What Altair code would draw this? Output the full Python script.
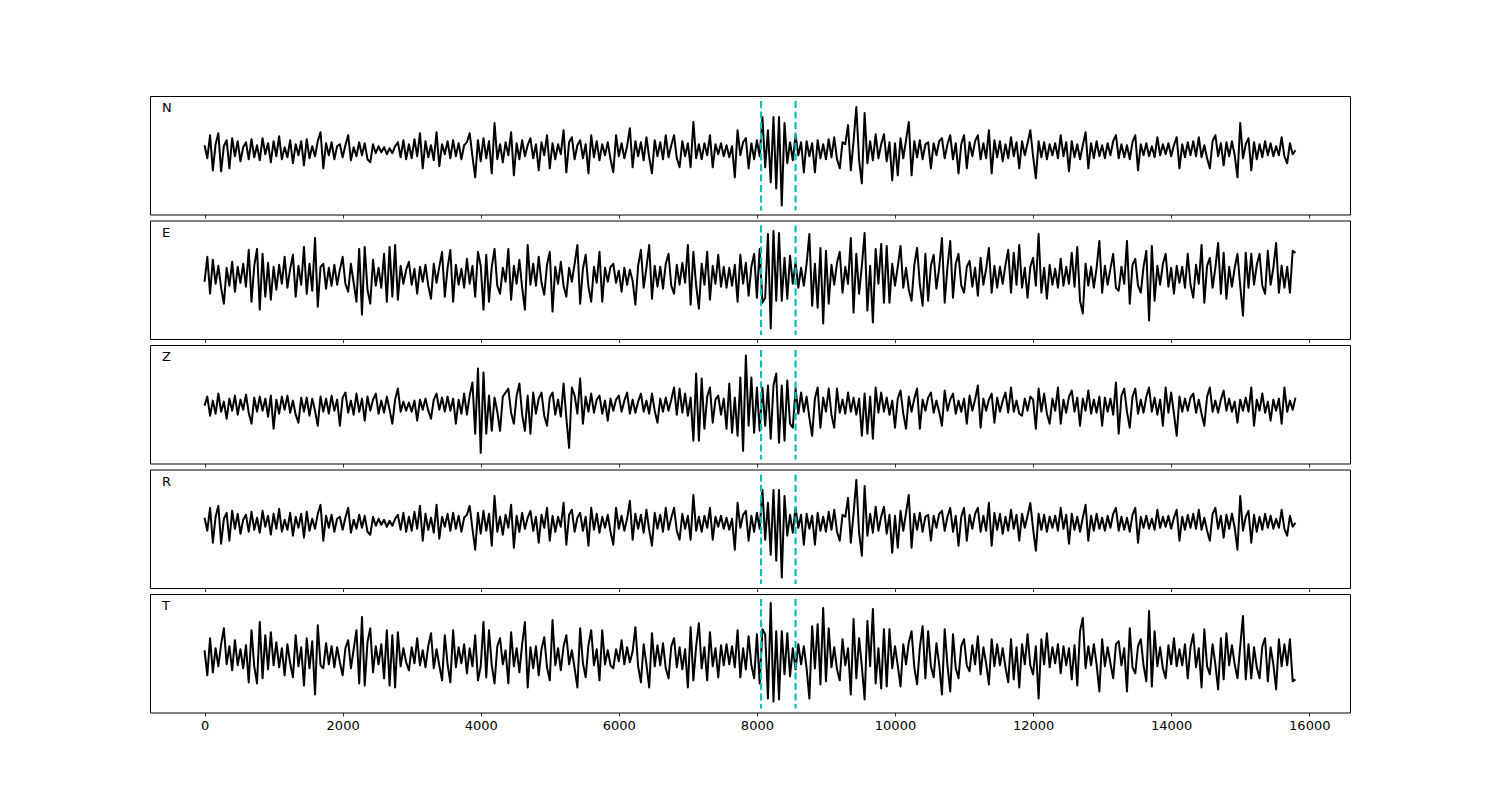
import altair as alt
import pandas as pd

# sample spacing of the traces (x units) and shared axis settings
DT = 40
X_DOMAIN = [-790, 16590]
X_TICKS = [0, 2000, 4000, 6000, 8000, 10000, 12000, 14000, 16000]
PICKS = [8060, 8560]

N_amp = [
    5, -8, 15, -20, 6, 17, -21, 4, 10, -18, 12, -6, 9, -11, 3, 8, -9, 11, -7, 5,
    -10, 12, -4, 7, -12, 9, -6, 14, -9, 3, -7, 10, -13, 6, -5, 9, -15, 11, -8, 4,
    -6, 9, 18, -18, 7, -5, 8, -9, 4, 6, -7, 5, 15, -10, 3, -6, 8, -5, 7, -9,
    -12, 6, -3, 4, -2, 3, -4, 2, -3, 4, 8, -7, 10, -9, 6, -8, 11, -6, 17, -18,
    9, -7, 5, -10, 18, -16, 6, -4, 9, -8, 10, -6, 7, -9, 5, 8, 17, -6, -27, 10,
    -11, 12, -8, 9, -23, 27, -9, 6, -12, 8, -5, 18, -25, 7, -9, 10, -6, 5, 12, -8,
    6, -20, 8, -5, 15, -18, 7, -9, 6, -4, 20, -22, 8, 13, -9, 5, 10, -8, 6, -23,
    15, -7, 9, -10, 6, -5, 8, -9, -22, 15, -6, 7, -8, 4, 22, -17, 9, -6, 8, -10,
    13, -7, -23, 10, -6, 8, -9, 15, -7, 5, 15, -8, -17, 9, -6, 7, -17, 28, -8, 6,
    -9, 7, -5, 15, -17, 6, -4, 7, -6, 5, -7, 4, -27, 20, -5, 8, 12, -18, 7, -9,
    10, -6, 33, -17, 20, -32, 33, -38, 33, -55, 27, -13, 8, -10, 15, -5, 8, -22, 9, -6,
    7, -22, 10, -8, 6, -9, 11, -7, 13, -9, -18, 8, 6, 25, -20, 9, 43, -10, -33, 37,
    -13, 9, -10, 16, -8, 6, 16, -11, 8, -30, 7, -25, 12, -8, 10, 28, -25, 9, -7, 10,
    -9, 6, 8, -18, 7, -5, 9, 12, -8, 6, 15, -9, 7, -23, 6, 15, -18, 8, -6, 9,
    15, -9, 7, -8, 20, -23, 10, -7, 9, -11, 6, -8, 13, -6, 8, -18, 9, -5, 7, 20,
    -6, -28, 9, -7, 8, -9, 6, -5, 7, -8, 15, -6, 8, -21, 9, -7, 6, -9, 5, 18,
    -18, 7, -8, 9, -6, 5, -8, 7, -5, 9, 15, -8, 6, -7, 5, -9, 8, 15, -20, 6,
    -5, 7, -6, 4, -7, 13, -5, 6, -4, 7, -6, 5, 13, -18, 6, -7, 8, -5, 9, -6,
    13, -7, 5, -8, -18, 9, 15, -6, 7, -15, 8, -6, 9, -5, -27, 27, -8, 6, 12, -20,
    8, -9, 6, -7, 9, -5, 7, -6, 4, -5, 13, -6, -13, 7, -4, 0,
]

E_amp = [
    -6, 19, -18, 16, -8, 10, -12, -28, 8, -10, 14, -16, 9, -7, 12, -11, 26, -26, 10, 27,
    -34, 22, -21, 13, -24, 9, -14, 11, -8, 19, -12, 7, 21, -21, 10, -9, 29, -18, 12, -15,
    38, -31, 9, 12, -13, 8, -10, 11, -9, 6, 19, -8, -16, 12, -7, -26, 27, -39, 29, -14,
    -28, 16, -10, 8, -12, 22, -26, 29, -21, 31, -24, 10, -8, 6, 14, -9, 7, -18, 9, -6,
    11, -10, -23, 12, -7, 9, 24, -21, 8, 26, -26, 11, -9, 7, -12, 17, -8, 10, -21, 24,
    10, -34, 21, -26, 9, 27, -10, -18, 8, -6, 27, -24, 10, -8, 16, -12, -34, 31, -9, 12,
    -10, 19, -7, -19, 11, 24, -36, 9, -8, 14, -10, -21, 8, -6, 12, 31, -28, 7, 21, -11,
    -26, 9, -7, 24, -26, 8, -6, 9, 12, -7, 5, -16, 8, -9, 6, -5, -29, 10, 26, -12,
    8, 31, -23, 10, -11, 9, -13, 12, 22, -10, -18, 11, -9, 13, -7, 31, -29, 24, -10, -33,
    12, -9, 24, -24, 10, -8, 21, -11, 9, -12, 8, -10, 11, -26, 21, -8, 13, -20, 9, 22,
    -22, 27, -27, -22, 42, -53, 45, -25, 43, -25, 18, -23, 20, -8, 13, -12, 8, -10, 12, 42,
    -30, 12, -32, 28, -48, 25, -28, 11, -9, 13, 24, -17, 9, -8, 38, -37, 22, -18, 10, 43,
    -35, 10, -47, 27, -8, 32, -27, 30, -27, 12, -10, 9, 30, -12, 8, -14, -25, 11, 28, -9,
    -30, 22, -25, 10, 21, -13, 8, 38, -27, 9, 35, -22, 12, 22, -10, -17, 9, 15, -11, 8,
    -20, 18, -9, 7, 28, -17, 10, -12, 9, -8, 11, 26, -17, 23, -9, 31, -12, 8, -22, 9,
    18, -10, 42, -17, 8, -23, 11, -9, 7, -12, 17, -10, 9, -8, 23, -11, 29, -25, -38, 12,
    -10, 9, -12, 8, 35, -17, 10, -9, 7, 22, -12, -15, 9, -8, 35, -28, 11, 17, -10, -17,
    9, 25, -45, 30, -25, 10, -9, 12, 22, -11, 8, -18, 10, -7, 9, -12, 22, -9, -22, 11,
    -8, 31, -27, 10, 18, -12, 8, 33, -18, 23, -23, 9, -11, 8, 22, -10, -40, 23, -12, 22,
    -9, 11, 22, -10, -18, 25, -9, 8, 33, -17, 10, -12, 9, -17, 25, 23,
]

Z_amp = [
    0, 9, -10, 5, -8, 12, -6, 4, -13, 7, -5, 10, -9, 6, -4, 11, -7, -18, 8, -6,
    9, -5, 7, -11, 10, -23, 6, -8, 9, -4, 10, -7, 5, -9, -17, 8, -6, 8, -10, 7,
    -5, -20, 9, -6, 7, -8, 10, -5, 6, -20, 8, 13, -7, 5, -9, 12, -6, 7, -15, 9,
    -5, 6, 12, -8, 5, -7, 9, -4, -18, 6, 17, -6, 4, -5, 3, -6, 5, -15, 6, -4,
    7, -5, -13, 6, 12, -4, 8, -6, 9, -5, 7, -18, 6, -8, 12, -9, 10, 23, -28, 37,
    -47, 33, -28, 10, -25, 8, -6, -25, 9, 13, 17, -7, -18, 10, 22, -9, -25, 10, -28, 13,
    -8, 7, 13, -10, -20, 8, 13, -9, 6, -11, 22, -12, -42, 18, 10, -8, 27, -18, 9, -6,
    12, -7, 6, 10, -8, 5, -15, 7, -5, 6, 10, -6, 5, 13, -8, 6, -7, 4, 12, -6,
    5, -8, 12, -5, -17, 7, -6, 8, -5, 6, 18, -9, 17, -7, 12, -10, 8, -35, 32, -35,
    27, -23, 9, 18, -17, 6, 10, -9, 7, -23, 22, -27, 8, -30, 28, -45, 50, -20, 28, -27,
    18, -25, 18, -20, 20, -33, 20, 32, -37, 20, -35, 25, -18, -22, 17, -8, 13, -6, 9, -12,
    -30, 7, 18, -22, 8, -6, 17, -9, -22, 17, -7, 6, -8, 13, -6, 8, -9, 7, -30, 12,
    -28, 9, -33, 18, -7, 13, -6, 8, -9, 5, -22, 7, 15, -8, -23, 9, -6, 7, 17, -23,
    6, -5, 8, 13, -7, 5, -6, -20, 15, -5, 6, 12, -8, 5, -6, 7, -18, 10, -5, 6,
    20, -22, 7, -5, 6, 12, -17, 8, -6, 5, 13, -7, 18, -6, 5, -8, -10, 7, -5, 9,
    6, -23, 17, -6, 12, -8, -18, 7, -5, 18, -18, 6, -7, 9, 15, -6, 8, -20, 7, -5,
    15, -8, 6, -7, 9, -20, 8, -6, 7, -9, 23, -28, 10, 17, -6, -22, 9, 17, -8, 6,
    -7, 9, 18, -6, 8, -9, 6, -20, 18, -7, 13, -8, -30, 9, -6, 7, -5, 8, 12, -7,
    6, -8, -20, 9, 18, -6, 5, -7, 6, 15, -5, 7, -6, 4, -17, 6, -5, 8, -6, 18,
    -20, 6, -5, 12, -7, 4, -15, 6, -5, 7, -18, 18, -6, 5, -4, 8,
]

R_amp = [
    5, -8, 15, -20, 6, 17, -21, 4, 10, -18, 12, -6, 9, -11, 3, 8, -9, 11, -7, 5,
    -10, 12, -4, 7, -12, 9, -6, 14, -9, 3, -7, 10, -13, 6, -5, 9, -15, 11, -8, 4,
    -6, 9, 18, -18, 7, -5, 8, -9, 4, 6, -7, 5, 15, -10, 3, -6, 8, -5, 7, -9,
    -12, 6, -3, 4, -2, 3, -4, 2, -3, 4, 8, -7, 10, -9, 6, -8, 11, -6, 17, -18,
    9, -7, 5, -10, 18, -16, 6, -4, 9, -8, 10, -6, 7, -9, 5, 8, 17, -6, -27, 10,
    -11, 12, -8, 9, -23, 27, -9, 6, -12, 8, -5, 18, -25, 7, -9, 10, -6, 5, 12, -8,
    6, -20, 8, -5, 15, -18, 7, -9, 6, -4, 20, -22, 8, 13, -9, 5, 10, -8, 6, -23,
    15, -7, 9, -10, 6, -5, 8, -9, -22, 15, -6, 7, -8, 4, 22, -17, 9, -6, 8, -10,
    13, -7, -23, 10, -6, 8, -9, 15, -7, 5, 15, -8, -17, 9, -6, 7, -17, 28, -8, 6,
    -9, 7, -5, 15, -17, 6, -4, 7, -6, 5, -7, 4, -27, 20, -5, 8, 12, -18, 7, -9,
    10, -6, 33, -17, 20, -32, 33, -38, 33, -55, 27, -13, 8, -10, 15, -5, 8, -22, 9, -6,
    7, -22, 10, -8, 6, -9, 11, -7, 13, -9, -18, 8, 6, 25, -20, 9, 43, -10, -33, 37,
    -13, 9, -10, 16, -8, 6, 16, -11, 8, -30, 7, -25, 12, -8, 10, 28, -25, 9, -7, 10,
    -9, 6, 8, -18, 7, -5, 9, 12, -8, 6, 15, -9, 7, -23, 6, 15, -18, 8, -6, 9,
    15, -9, 7, -8, 20, -23, 10, -7, 9, -11, 6, -8, 13, -6, 8, -18, 9, -5, 7, 20,
    -6, -28, 9, -7, 8, -9, 6, -5, 7, -8, 15, -6, 8, -21, 9, -7, 6, -9, 5, 18,
    -18, 7, -8, 9, -6, 5, -8, 7, -5, 9, 15, -8, 6, -7, 5, -9, 8, 15, -20, 6,
    -5, 7, -6, 4, -7, 13, -5, 6, -4, 7, -6, 5, 13, -18, 6, -7, 8, -5, 9, -6,
    13, -7, 5, -8, -18, 9, 15, -6, 7, -15, 8, -6, 9, -5, -27, 27, -8, 6, 12, -20,
    8, -9, 6, -7, 9, -5, 7, -6, 4, -5, 13, -6, -13, 7, -4, 0,
]

T_amp = [
    6, -19, 18, -16, 8, -10, 12, 28, -8, 10, -14, 16, -9, 7, -12, 11, -26, 26, -10, -27,
    34, -22, 21, -13, 24, -9, 14, -11, 8, -19, 12, -7, -21, 21, -10, 9, -29, 18, -12, 15,
    -38, 31, -9, -12, 13, -8, 10, -11, 9, -6, -19, 8, 16, -12, 7, 26, -27, 39, -29, 14,
    28, -16, 10, -8, 12, -22, 26, -29, 21, -31, 24, -10, 8, -6, -14, 9, -7, 18, -9, 6,
    -11, 10, 23, -12, 7, -9, -24, 21, -8, -26, 26, -11, 9, -7, 12, -17, 8, -10, 21, -24,
    -10, 34, -21, 26, -9, -27, 10, 18, -8, 6, -27, 24, -10, 8, -16, 12, 34, -31, 9, -12,
    10, -19, 7, 19, -11, -24, 36, -9, 8, -14, 10, 21, -8, 6, -12, -31, 28, -7, -21, 11,
    26, -9, 7, -24, 26, -8, 6, -9, -12, 7, -5, 16, -8, 9, -6, 5, 29, -10, -26, 12,
    -8, -31, 23, -10, 11, -9, 13, -12, -22, 10, 18, -11, 9, -13, 7, -31, 29, -24, 10, 33,
    -12, 9, -24, 24, -10, 8, -21, 11, -9, 12, -8, 10, -11, 26, -21, 8, -13, 20, -9, -22,
    22, -27, 27, 22, -42, 53, -45, 25, -43, 25, -18, 23, -20, 8, -13, 12, -8, 10, -12, -42,
    30, -12, 32, -28, 48, -25, 28, -11, 9, -13, -24, 17, -9, 8, -38, 37, -22, 18, -10, -43,
    35, -10, 47, -27, 8, -32, 27, -30, 27, -12, 10, -9, -30, 12, -8, 14, 25, -11, -28, 9,
    30, -22, 25, -10, -21, 13, -8, -38, 27, -9, -35, 22, -12, -22, 10, 17, -9, -15, 11, -8,
    20, -18, 9, -7, -28, 17, -10, 12, -9, 8, -11, -26, 17, -23, 9, -31, 12, -8, 22, -9,
    -18, 10, -42, 17, -8, 23, -11, 9, -7, 12, -17, 10, -9, 8, -23, 11, -29, 25, 38, -12,
    10, -9, 12, -8, -35, 17, -10, 9, -7, -22, 12, 15, -9, 8, -35, 28, -11, -17, 10, 17,
    -9, -25, 45, -30, 25, -10, 9, -12, -22, 11, -8, 18, -10, 7, -9, 12, -22, 9, 22, -11,
    8, -31, 27, -10, -18, 12, -8, -33, 18, -23, 23, -9, 11, -8, -22, 10, 40, -23, 12, -22,
    9, -11, -22, 10, 18, -25, 9, -8, -33, 17, -10, 12, -9, 17, -25, -23,
]

PANELS = [
    ("N", N_amp, [-64, 54]),
    ("E", E_amp, [-63.5, 55.5]),
    ("Z", Z_amp, [-57.6, 60.4]),
    ("R", R_amp, [-65.5, 53.5]),
    ("T", T_amp, [-56, 62]),
]

W, H = 1200, 118.5


def make_panel(label, amp, ydom, show_labels):
    df = pd.DataFrame({"t": [DT * i for i in range(len(amp))], "amp": amp})
    xenc = alt.X(
        "t:Q",
        scale=alt.Scale(domain=X_DOMAIN, nice=False, zero=False),
        axis=alt.Axis(
            values=X_TICKS, labels=show_labels, ticks=True, grid=False, domain=False,
            tickSize=3.5, tickColor="black", tickWidth=0.8, labelFontSize=13,
            labelFont="DejaVu Sans", labelColor="black", labelPadding=3,
            title=None, format="d",
        ),
    )
    line = alt.Chart(df).mark_line(
        color="black", strokeWidth=2, strokeJoin="round"
    ).encode(
        x=xenc,
        y=alt.Y("amp:Q", scale=alt.Scale(domain=ydom, nice=False, zero=False), axis=None),
    )
    rules = alt.Chart(pd.DataFrame({"t": PICKS})).mark_rule(
        color="#00bfbf", strokeWidth=2.2, strokeDash=[7, 3.5]
    ).encode(x="t:Q", y=alt.value(5), y2=alt.value(114.5))
    text = alt.Chart(pd.DataFrame({"label": [label]})).mark_text(
        align="left", baseline="middle", fontSize=13, font="DejaVu Sans", color="black"
    ).encode(x=alt.value(12), y=alt.value(12), text="label:N")
    return alt.layer(line, rules, text).properties(width=W, height=H)


charts = [
    make_panel(lbl, amp, dom, i == len(PANELS) - 1)
    for i, (lbl, amp, dom) in enumerate(PANELS)
]

chart = (
    alt.vconcat(*charts, spacing=0.5)
    .resolve_scale(x="independent", y="independent")
    .properties(padding={"left": 141, "top": 87, "right": 10, "bottom": 10})
    .configure_view(stroke="black", strokeWidth=1)
)

chart.save("out.html", embed_options={"renderer": "svg", "actions": False})
